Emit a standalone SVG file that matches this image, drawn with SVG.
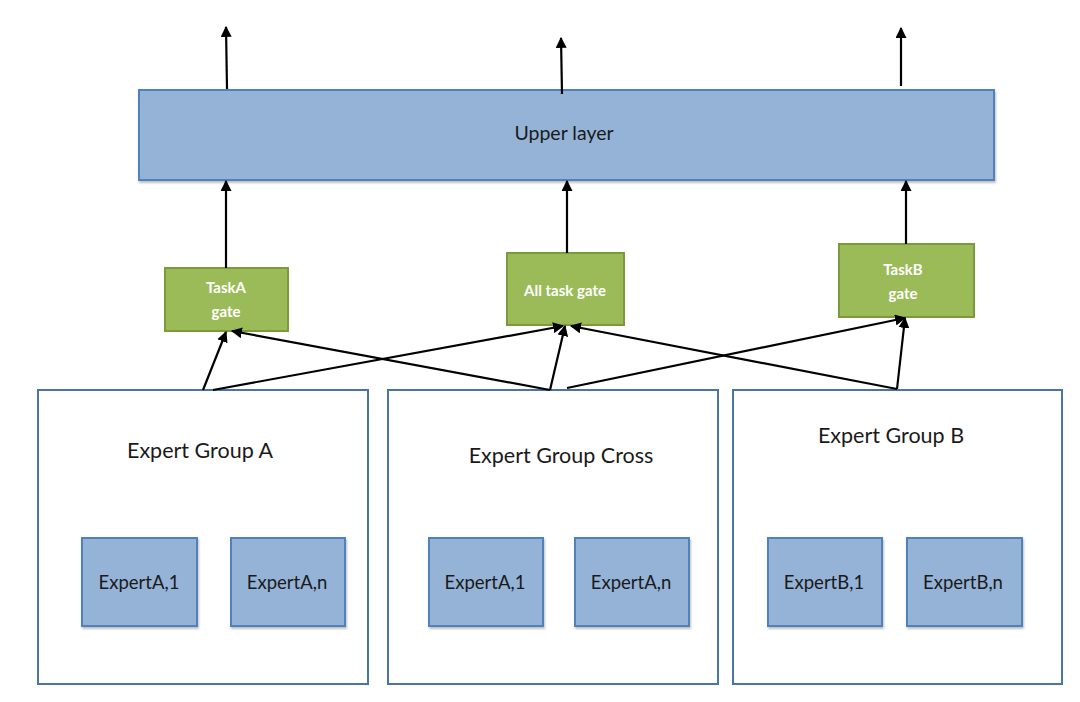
<svg xmlns="http://www.w3.org/2000/svg" width="1080" height="702" viewBox="0 0 1080 702">
<style>
.blue{fill:#95b3d7;stroke:#4f81bd;stroke-width:2}
.grp{fill:#fff;stroke:#4a74a8;stroke-width:2}
.gate{fill:#9bbb59;stroke:#7a9a3c;stroke-width:2}
.t{font-family:Lato,"Open Sans",sans-serif;fill:#1a1a1a;text-anchor:middle}
.gt{font-family:Lato,"Open Sans",sans-serif;fill:#fff;text-anchor:middle;font-size:15px;font-weight:bold}
.c line{stroke:#000;stroke-width:2.2;marker-end:url(#ah)}
</style>
<defs>
<marker id="ah" viewBox="0 0 10 10" refX="9" refY="5" markerWidth="5" markerHeight="5" orient="auto" markerUnits="strokeWidth">
<path d="M0,0L10,5L0,10z" fill="#000"/>
</marker>
<filter id="sh" x="-10%" y="-10%" width="130%" height="130%"><feDropShadow dx="1" dy="2" stdDeviation="1.2" flood-color="#000" flood-opacity="0.25"/></filter>
</defs>
<rect width="1080" height="702" fill="#fff"/>
<g id="upper">
<rect class="blue" x="139" y="90" width="855" height="90" filter="url(#sh)"/>
<text class="t" x="564" y="140" font-size="19.5">Upper layer</text>
</g>
<g id="taskA-gate">
<rect class="gate" x="165" y="268" width="123" height="63"/>
<text class="gt" x="226" y="293">TaskA</text>
<text class="gt" x="226" y="317">gate</text>
</g>
<g id="all-gate">
<rect class="gate" x="507" y="253" width="117" height="72"/>
<text class="gt" x="565" y="296">All task gate</text>
</g>
<g id="taskB-gate">
<rect class="gate" x="839" y="244" width="135" height="73"/>
<text class="gt" x="903" y="275">TaskB</text>
<text class="gt" x="903" y="299">gate</text>
</g>
<g id="group-a">
<rect class="grp" x="38" y="390" width="330" height="294"/>
<text class="t" x="200" y="458" font-size="21.5">Expert Group A</text>
<g id="a1"><rect class="blue" x="82" y="538" width="115" height="88" filter="url(#sh)"/><text class="t" x="139" y="589" font-size="18.5">ExpertA,1</text></g>
<g id="an"><rect class="blue" x="231" y="538" width="114" height="88" filter="url(#sh)"/><text class="t" x="287" y="589" font-size="18.5">ExpertA,n</text></g>
</g>
<g id="group-cross">
<rect class="grp" x="388" y="390" width="330" height="294"/>
<text class="t" x="561" y="463" font-size="21.5">Expert Group Cross</text>
<g id="c1"><rect class="blue" x="429" y="538" width="114" height="88" filter="url(#sh)"/><text class="t" x="485" y="589" font-size="18.5">ExpertA,1</text></g>
<g id="cn"><rect class="blue" x="575" y="538" width="114" height="88" filter="url(#sh)"/><text class="t" x="631" y="589" font-size="18.5">ExpertA,n</text></g>
</g>
<g id="group-b">
<rect class="grp" x="733" y="390" width="329" height="294"/>
<text class="t" x="891" y="443" font-size="21.5">Expert Group B</text>
<g id="b1"><rect class="blue" x="768" y="538" width="114" height="88" filter="url(#sh)"/><text class="t" x="824" y="589" font-size="18.5">ExpertB,1</text></g>
<g id="bn"><rect class="blue" x="907" y="538" width="115" height="88" filter="url(#sh)"/><text class="t" x="963" y="589" font-size="18.5">ExpertB,n</text></g>
</g>
<g id="connectors" class="c">
<line x1="227" y1="89" x2="226" y2="27"/>
<line x1="562" y1="94" x2="561" y2="38"/>
<line x1="901" y1="86" x2="901" y2="28"/>
<line x1="226" y1="268" x2="226" y2="181"/>
<line x1="567" y1="253" x2="567" y2="181"/>
<line x1="906" y1="244" x2="906" y2="181"/>
<line x1="203" y1="390" x2="226" y2="332"/>
<line x1="213" y1="390" x2="563" y2="326"/>
<line x1="550" y1="390" x2="232" y2="331"/>
<line x1="550" y1="390" x2="565" y2="326"/>
<line x1="567" y1="388" x2="905" y2="318"/>
<line x1="897" y1="389" x2="571" y2="326"/>
<line x1="897" y1="389" x2="905" y2="318"/>
</g>
</svg>
